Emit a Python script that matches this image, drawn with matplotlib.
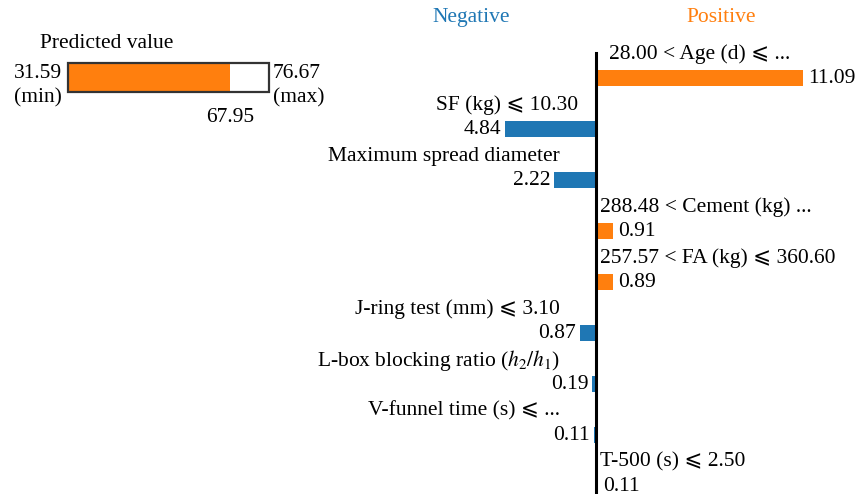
import matplotlib.pyplot as plt
from matplotlib.patches import Rectangle

plt.rcParams['font.family'] = ['Liberation Serif', 'DejaVu Serif', 'DejaVu Sans']
plt.rcParams['mathtext.fontset'] = 'stix'

# LIME explanation data
features = [
    "28.00 < Age (d) \u2a7d ...",
    "SF (kg) \u2a7d 10.30",
    "Maximum spread diameter",
    "288.48 < Cement (kg) ...",
    "257.57 < FA (kg) \u2a7d 360.60",
    "J-ring test (mm) \u2a7d 3.10",
    "L-box blocking ratio ($h_2/h_1$)",
    "V-funnel time (s) \u2a7d ...",
    "T-500 (s) \u2a7d 2.50",
]
weights = [11.09, -4.84, -2.22, 0.91, 0.89, -0.87, -0.19, -0.11, 0.11]

pred_min = 31.59
pred_max = 76.67
pred_value = 67.95

BLUE = '#1f77b4'
ORANGE = '#ff7f0e'

W, H = 858, 494
fig = plt.figure(figsize=(W / 100, H / 100), dpi=100)

# ---- contribution bars ----
px_per_unit = 18.7
x0_px = 596
y0_px = 78
row_px = 51.0
ax = fig.add_axes([0, 0, 1, 1])
ax.set_xlim(-x0_px / px_per_unit, (W - x0_px) / px_per_unit)
ax.set_ylim((H - y0_px) / row_px, -y0_px / row_px)
ax.axis('off')

fs = 15.5
unit = 1 / px_per_unit  # one pixel in data units
for i, (name, w) in enumerate(zip(features, weights)):
    color = ORANGE if w > 0 else BLUE
    ax.barh(i, w, height=0.33, color=color, left=0)
    if w > 0:
        ax.text(w + 5 * unit, i, f"{abs(w):.2f}", ha='left', va='center', fontsize=fs)
        ax.text(4 * unit if i else 13 * unit, i - 0.47, name, ha='left', va='center', fontsize=fs)
    else:
        ax.text(w - 4 * unit, i, f"{abs(w):.2f}", ha='right', va='center', fontsize=fs)
        xr = -18 * unit if i == 1 else -36 * unit
        ax.text(xr, i - 0.47, name, ha='right', va='center', fontsize=fs)

ax.plot([0, 0], [-25 / row_px, (H - y0_px) / row_px], color='black', lw=2.2, zorder=5)

ax.text((471 - x0_px) / px_per_unit, (17 - y0_px) / row_px, "Negative",
        color=BLUE, ha='center', va='center', fontsize=fs)
ax.text((721 - x0_px) / px_per_unit, (17 - y0_px) / row_px, "Positive",
        color=ORANGE, ha='center', va='center', fontsize=fs)

# ---- predicted value gauge (pixel coordinates) ----
pax = fig.add_axes([0, 0, 1, 1])
pax.set_xlim(0, W)
pax.set_ylim(H, 0)
pax.axis('off')
pax.patch.set_alpha(0)

bx0, bx1, by0, by1 = 68, 269, 63, 92
frac = (pred_value - pred_min) / (pred_max - pred_min)
fill_x = bx0 + frac * (bx1 - bx0)
pax.add_patch(Rectangle((bx0, by0), fill_x - bx0, by1 - by0, facecolor=ORANGE, edgecolor='none'))
pax.add_patch(Rectangle((bx0, by0), bx1 - bx0, by1 - by0, facecolor='none',
                        edgecolor='#333333', lw=1.6))
pax.text(40, 44, "Predicted value", ha='left', va='center', fontsize=fs)
pax.text(62, 73, f"{pred_min:.2f}", ha='right', va='center', fontsize=fs)
pax.text(62, 98, "(min)", ha='right', va='center', fontsize=fs)
pax.text(273, 73, f"{pred_max:.2f}", ha='left', va='center', fontsize=fs)
pax.text(273, 98, "(max)", ha='left', va='center', fontsize=fs)
pax.text(fill_x, 117, f"{pred_value:.2f}", ha='center', va='center', fontsize=fs)

fig.savefig('out.png', dpi=100, facecolor='white')
